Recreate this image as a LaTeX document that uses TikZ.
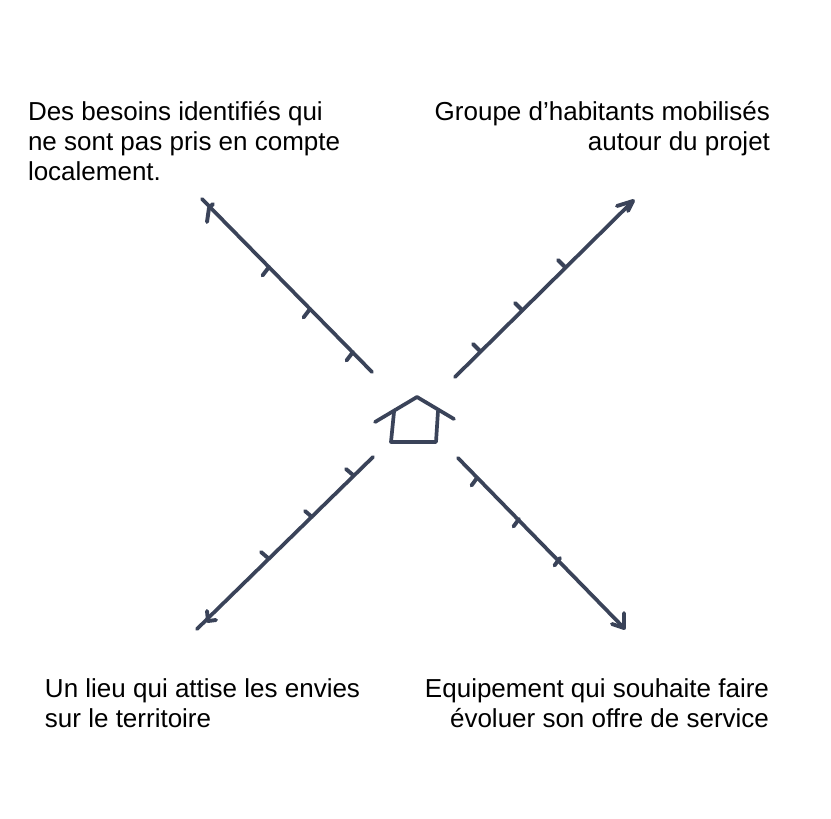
\documentclass[tikz,border=0pt]{standalone}
\usepackage{fontspec}
\setmainfont{Liberation Sans}
\definecolor{ink}{HTML}{3A4359}
\tikzset{
  sketch/.style={draw=ink,line width=3.7pt,line cap=round,line join=round},
  barb/.style={draw=ink,line width=3.9pt,line cap=round,line join=round},
  label/.style={inner sep=0pt,outer sep=0pt,text=black,font=\fontsize{26}{30}\selectfont}
}
\begin{document}
\begin{tikzpicture}[x=1pt,y=-1pt]
\useasboundingbox[fill=white] (0,0) rectangle (831,819);
% labels
\node[label,anchor=north west,align=left] (tl) at (28,101) {Des besoins identifiés qui\\ne sont pas pris en compte\\localement.};
\node[label,anchor=north east,align=right] (tr) at (770,101) {Groupe d’habitants mobilisés\\autour du projet};
\node[label,anchor=north west,align=left] (bl) at (45,679) {Un lieu qui attise les envies\\sur le territoire};
\node[label,anchor=north east,align=right] (br) at (769,679) {Equipement qui souhaite faire\\évoluer son offre de service};
% top left axis
\coordinate (a1s) at (372,372); \coordinate (a1e) at (202,199);
\coordinate (a1b) at (213,204); \coordinate (a1c) at (207,222); \coordinate (a1j) at (209,208);
\draw[sketch] (a1s) -- (a1e);
\draw[barb] (a1b) -- (a1j) -- (a1c);
\foreach \p/\q in {269/267,310/309,353/352}{\coordinate (t) at (\p,\q);\draw[barb] (t) -- ++(-6.5,8.5);}
% top right axis
\coordinate (a2s) at (455,377); \coordinate (a2e) at (633,201);
\coordinate (a2b) at (617,206); \coordinate (a2c) at (628,211);
\draw[sketch] (a2s) -- (a2e);
\draw[barb] (a2b) -- (a2e) -- (a2c);
\foreach \p/\q in {480/351,522/310,565/267}{\coordinate (t) at (\p,\q);\draw[barb] (t) -- ++(-7,-7);}
% bottom left axis
\coordinate (a3s) at (373,457); \coordinate (a3e) at (197,629);
\coordinate (a3b) at (207,611); \coordinate (a3c) at (216,620); \coordinate (a3j) at (208,621);
\draw[sketch] (a3s) -- (a3e);
\draw[barb] (a3b) -- (a3j) -- (a3c);
\foreach \p/\q in {353/475,312/517,268/558}{\coordinate (t) at (\p,\q);\draw[barb] (t) -- ++(-7,-6);}
% bottom right axis
\coordinate (a4s) at (458,458); \coordinate (a4e) at (624,628);
\coordinate (a4b) at (624,613); \coordinate (a4c) at (612,624);
\draw[sketch] (a4s) -- (a4e);
\draw[barb] (a4b) -- (a4e) -- (a4c);
\foreach \p/\q in {477/478,519/519,560/558}{\coordinate (t) at (\p,\q);\draw[barb] (t) -- ++(-5.5,7.5);}
% house
\coordinate (h1) at (375,422); \coordinate (h2) at (417,397); \coordinate (h3) at (454,419);
\coordinate (h4) at (394,412); \coordinate (h5) at (391,442); \coordinate (h6) at (436,442); \coordinate (h7) at (438,411);
\draw[sketch] (h1) -- (h2) -- (h3);
\draw[sketch] (h4) -- (h5) -- (h6) -- (h7);
\end{tikzpicture}
\end{document}
